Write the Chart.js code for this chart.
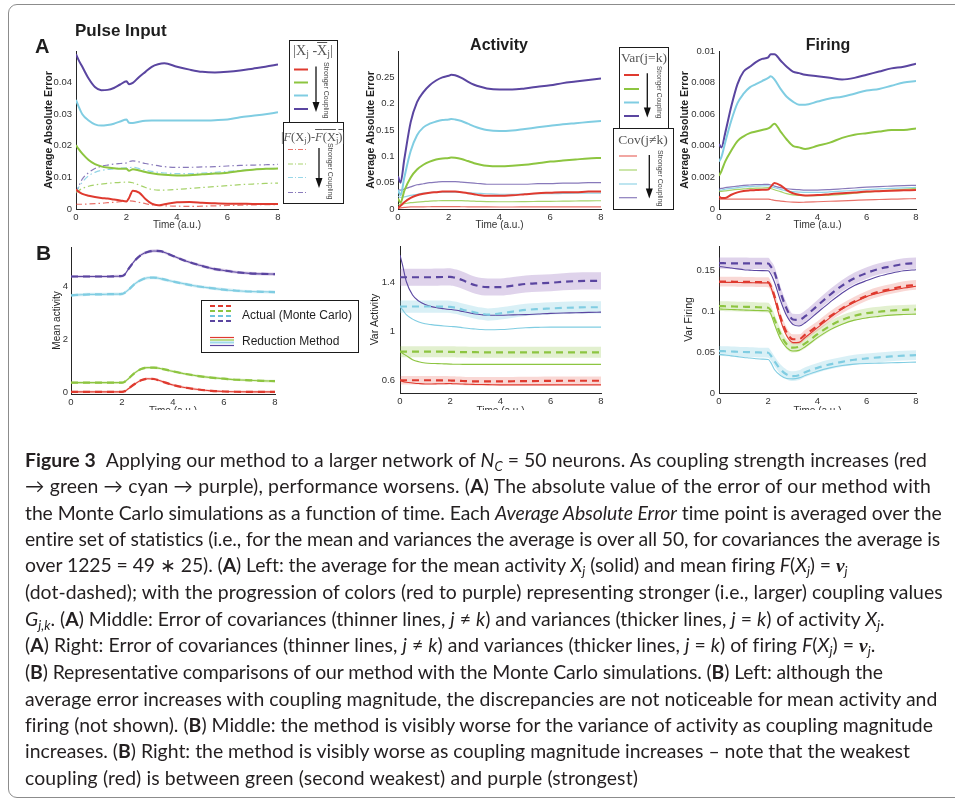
<!DOCTYPE html>
<html><head><meta charset="utf-8">
<title>Figure 3</title>
<script src="https://cdn.jsdelivr.net/npm/chart.js@4.4.1/dist/chart.umd.min.js"></script>
<style>
html,body{margin:0;padding:0;background:#fff}
body{width:955px;height:803px;position:relative;overflow:hidden;font-family:'Liberation Sans',Arial,sans-serif;color:#222}
canvas{position:absolute;z-index:1}
.cover{position:absolute;left:10px;top:410px;width:945px;height:34px;background:#fff;z-index:2}
.frame{position:absolute;left:8px;top:4px;width:1000px;height:794px;border:1px solid #8c8c8c;border-radius:9px;box-sizing:border-box;z-index:6;pointer-events:none}
.t{position:absolute;white-space:nowrap;line-height:1;font-weight:bold;color:#1e1e1e;z-index:3}
.box{position:absolute;border:1px solid #1b1b1b;background:#fff;box-sizing:border-box;z-index:3}
.ser{position:absolute;font-family:'Liberation Serif','DejaVu Serif',serif;color:#555;white-space:nowrap;line-height:1;z-index:5;transform:translateX(-50%)}
.ser sub{font-size:0.7em;vertical-align:-0.25em;line-height:0}
.rot{position:absolute;writing-mode:vertical-rl;font-size:7px;color:#444;white-space:nowrap;line-height:1;z-index:5;transform:translateX(-50%)}
.leg{position:absolute;font-size:12px;color:#1e1e1e;white-space:nowrap;line-height:1;z-index:5}
svg.ov{position:absolute;left:0;top:0;z-index:4;pointer-events:none}
.cap{position:absolute;left:25px;top:447px;font-family:Lato,'Open Sans',sans-serif;color:#231f20;line-height:26.3px;z-index:5;white-space:nowrap;font-size:18px}
.cap div{white-space:nowrap}
.cap sub{font-size:0.68em;vertical-align:-0.28em;line-height:0}
.ol{text-decoration:overline}
.nu{font-family:'Liberation Serif',serif;font-weight:bold;font-style:italic}
</style></head>
<body>
<canvas id="cAL"></canvas>
<canvas id="cAM"></canvas>
<canvas id="cAR"></canvas>
<canvas id="cBL"></canvas>
<canvas id="cBM"></canvas>
<canvas id="cBR"></canvas>
<div class="cover"></div>

<div class="t" style="left:35px;top:36px;font-size:20px">A</div>
<div class="t" style="left:36px;top:242px;font-size:21px">B</div>
<div class="t" style="left:75px;top:22px;font-size:17px">Pulse Input</div>
<div class="t" style="left:499px;top:37px;font-size:16px;transform:translateX(-50%)">Activity</div>
<div class="t" style="left:828px;top:37px;font-size:16px;transform:translateX(-50%)">Firing</div>

<!-- legend boxes -->
<div class="box" style="left:289px;top:40px;width:49px;height:83px"></div>
<div class="box" style="left:283px;top:122px;width:61px;height:82px"></div>
<div class="box" style="left:619px;top:47px;width:50px;height:82px"></div>
<div class="box" style="left:613px;top:128px;width:61px;height:82px"></div>
<div class="box" style="left:201px;top:300px;width:158px;height:53px"></div>

<div class="ser" style="left:313px;top:44px;font-size:14px">|X<sub>j</sub> -<span class="ol">X</span><sub>j</sub>|</div>
<div class="ser" style="left:313px;top:131px;font-size:12.5px">|<i>F</i>(X<sub>j</sub>)-<span class="ol"><i>F</i>(X<sub>j</sub>)</span>|</div>
<div class="ser" style="left:644px;top:51px;font-size:13.5px">Var(j=k)</div>
<div class="ser" style="left:643px;top:133px;font-size:13.5px">Cov(j≠k)</div>

<div class="rot" style="left:326.5px;top:62px">Stronger Coupling</div>
<div class="rot" style="left:330px;top:143px">Stronger Coupling</div>
<div class="rot" style="left:658.5px;top:66px;font-size:6.5px">Stronger Coupling</div>
<div class="rot" style="left:660px;top:150px">Stronger Coupling</div>

<div class="leg" style="left:242px;top:309px">Actual (Monte Carlo)</div>
<div class="leg" style="left:242px;top:335px">Reduction Method</div>

<svg class="ov" width="955" height="803">
  <g stroke-width="2">
    <line x1="294" y1="69.5" x2="308" y2="69.5" stroke="#df3a2f"/>
    <line x1="294" y1="82.5" x2="308" y2="82.5" stroke="#8dc540"/>
    <line x1="294" y1="95.5" x2="308" y2="95.5" stroke="#80cde2"/>
    <line x1="294" y1="109" x2="308" y2="109" stroke="#5a45a0"/>
  </g>
  <g stroke-width="1.2" stroke-dasharray="5,2,1,2">
    <line x1="288" y1="149.5" x2="307" y2="149.5" stroke="rgba(223,58,47,0.7)"/>
    <line x1="288" y1="164" x2="307" y2="164" stroke="rgba(141,197,64,0.75)"/>
    <line x1="288" y1="177.5" x2="307" y2="177.5" stroke="rgba(128,205,226,0.8)"/>
    <line x1="288" y1="192.5" x2="307" y2="192.5" stroke="rgba(90,69,160,0.7)"/>
  </g>
  <g stroke-width="2">
    <line x1="624" y1="75" x2="639" y2="75" stroke="#df3a2f"/>
    <line x1="624" y1="89" x2="639" y2="89" stroke="#8dc540"/>
    <line x1="624" y1="102.5" x2="639" y2="102.5" stroke="#80cde2"/>
    <line x1="624" y1="116" x2="639" y2="116" stroke="#5a45a0"/>
  </g>
  <g stroke-width="1.2">
    <line x1="619" y1="156" x2="637" y2="156" stroke="rgba(223,58,47,0.75)"/>
    <line x1="619" y1="170" x2="637" y2="170" stroke="rgba(141,197,64,0.75)"/>
    <line x1="619" y1="184" x2="637" y2="184" stroke="rgba(128,205,226,0.85)"/>
    <line x1="619" y1="197.7" x2="637" y2="197.7" stroke="rgba(90,69,160,0.7)"/>
  </g>
  <g stroke="#111" stroke-width="1.3">
    <line x1="316" y1="66.5" x2="316" y2="104"/>
    <line x1="319" y1="148" x2="319" y2="180"/>
    <line x1="647.3" y1="73.3" x2="647.3" y2="109"/>
    <line x1="649.3" y1="155" x2="649.3" y2="190"/>
  </g>
  <g fill="#111">
    <polygon points="312.5,102 319.5,102 316,112"/>
    <polygon points="315.5,178 322.5,178 319,188"/>
    <polygon points="643.8,107.5 650.8,107.5 647.3,117.5"/>
    <polygon points="645.8,188.5 652.8,188.5 649.3,198.5"/>
  </g>
  <g stroke-width="1.8" stroke-dasharray="5,3">
    <line x1="210" y1="306" x2="234" y2="306" stroke="#df3a2f"/>
    <line x1="210" y1="311" x2="234" y2="311" stroke="#8dc540"/>
    <line x1="210" y1="316" x2="234" y2="316" stroke="#6fc3dc"/>
    <line x1="210" y1="321" x2="234" y2="321" stroke="#5a45a0"/>
  </g>
  <g stroke-width="1.2">
    <line x1="210" y1="337.5" x2="234" y2="337.5" stroke="#df3a2f"/>
    <line x1="210" y1="340" x2="234" y2="340" stroke="#8dc540"/>
    <line x1="210" y1="342.5" x2="234" y2="342.5" stroke="#9fd9ea" stroke-width="2"/>
    <line x1="210" y1="345.5" x2="234" y2="345.5" stroke="#5a45a0"/>
  </g>
</svg>

<div class="cap" id="cap">
<div><span><b>Figure 3</b><span style="display:inline-block;width:10px"></span>Applying our method to a larger network of <i>N<sub>C</sub></i> = 50 neurons. As coupling strength increases (red</span></div>
<div><span>→ green → cyan → purple), performance worsens. (<b>A</b>) The absolute value of the error of our method with</span></div>
<div><span>the Monte Carlo simulations as a function of time. Each <i>Average Absolute Error</i> time point is averaged over the</span></div>
<div><span>entire set of statistics (i.e., for the mean and variances the average is over all 50, for covariances the average is</span></div>
<div><span>over 1225 = 49 ∗ 25). (<b>A</b>) Left: the average for the mean activity <i>X<sub>j</sub></i> (solid) and mean firing <i>F</i>(<i>X<sub>j</sub></i>) = <span class="nu">ν</span><sub><i>j</i></sub></span></div>
<div><span>(dot-dashed); with the progression of colors (red to purple) representing stronger (i.e., larger) coupling values</span></div>
<div><span><i>G<sub>j,k</sub></i>. (<b>A</b>) Middle: Error of covariances (thinner lines, <i>j</i> ≠ <i>k</i>) and variances (thicker lines, <i>j</i> = <i>k</i>) of activity <i>X<sub>j</sub></i>.</span></div>
<div><span>(<b>A</b>) Right: Error of covariances (thinner lines, <i>j</i> ≠ <i>k</i>) and variances (thicker lines, <i>j</i> = <i>k</i>) of firing <i>F</i>(<i>X<sub>j</sub></i>) = <span class="nu">ν</span><sub><i>j</i></sub>.</span></div>
<div><span>(<b>B</b>) Representative comparisons of our method with the Monte Carlo simulations. (<b>B</b>) Left: although the</span></div>
<div><span>average error increases with coupling magnitude, the discrepancies are not noticeable for mean activity and</span></div>
<div><span>firing (not shown). (<b>B</b>) Middle: the method is visibly worse for the variance of activity as coupling magnitude</span></div>
<div><span>increases. (<b>B</b>) Right: the method is visibly worse as coupling magnitude increases – note that the weakest</span></div>
<div><span>coupling (red) is between green (second weakest) and purple (strongest)</span></div>
</div>
<div class="frame"></div>

<script>
// ---------- data ----------
const T = [0,0.1,0.25,0.5,0.75,1,1.25,1.5,1.75,2,2.1,2.25,2.5,2.75,3,3.25,3.5,4,4.5,5,5.5,6,6.5,7,7.5,8];
const X_TICKS = [0,2,4,6,8];
const X_LABELS = ['0','2','4','6','8'];
const X_TITLE = 'Time (a.u.)';

// A left: |Xj - mean Xj| (solid) and |F(Xj) - mean F| (dot-dashed)
const AL_Y_TICKS = [0,0.01,0.02,0.03,0.04];
const AL_Y_LABELS = ['0','0.01','0.02','0.03','0.04'];
const AL_X_RED    = [0.0062,0.0055,0.0048,0.0042,0.0038,0.0035,0.0033,0.0030,0.0027,0.0024,0.0035,0.0058,0.0052,0.0032,0.0017,0.0012,0.0015,0.0021,0.0022,0.0020,0.0018,0.0017,0.0017,0.0016,0.0016,0.0016];
const AL_X_GREEN  = [0.0202,0.0190,0.0175,0.0155,0.0142,0.0135,0.0131,0.0129,0.0127,0.0127,0.0121,0.0126,0.0122,0.0117,0.0113,0.0110,0.0108,0.0106,0.0107,0.0110,0.0112,0.0115,0.0120,0.0124,0.0127,0.0128];
const AL_X_CYAN   = [0.0345,0.0325,0.0300,0.0280,0.0268,0.0264,0.0266,0.0270,0.0277,0.0283,0.0273,0.0272,0.0276,0.0279,0.0280,0.0280,0.0280,0.0280,0.0280,0.0280,0.0281,0.0283,0.0290,0.0295,0.0300,0.0306];
const AL_X_PURPLE = [0.0490,0.0472,0.0450,0.0413,0.0386,0.0376,0.0377,0.0383,0.0394,0.0404,0.0395,0.0399,0.0418,0.0434,0.0450,0.0458,0.0461,0.0450,0.0441,0.0434,0.0432,0.0434,0.0438,0.0444,0.0450,0.0457];
const AL_F_RED    = [0.0015,0.0015,0.0015,0.0016,0.0017,0.0018,0.0020,0.0021,0.0023,0.0025,0.0026,0.0025,0.0021,0.0017,0.0013,0.0011,0.0010,0.0009,0.0008,0.0009,0.0010,0.0011,0.0012,0.0013,0.0014,0.0014];
const AL_F_GREEN  = [0.0052,0.0058,0.0065,0.0072,0.0076,0.0079,0.0081,0.0083,0.0084,0.0085,0.0085,0.0083,0.0076,0.0068,0.0062,0.0060,0.0060,0.0062,0.0065,0.0068,0.0071,0.0074,0.0077,0.0079,0.0081,0.0082];
const AL_F_CYAN   = [0.0055,0.0068,0.0085,0.0105,0.0116,0.0122,0.0125,0.0127,0.0129,0.0130,0.0131,0.0132,0.0128,0.0123,0.0119,0.0116,0.0114,0.0112,0.0112,0.0114,0.0116,0.0119,0.0122,0.0125,0.0127,0.0129];
const AL_F_PURPLE = [0.0050,0.0070,0.0095,0.0115,0.0128,0.0135,0.0139,0.0142,0.0144,0.0146,0.0150,0.0152,0.0149,0.0144,0.0140,0.0137,0.0134,0.0132,0.0132,0.0133,0.0134,0.0136,0.0138,0.0139,0.0140,0.0141];

// A middle: activity variance (thick) and covariance (thin) errors
const AM_Y_TICKS = [0,0.05,0.1,0.15,0.2,0.25];
const AM_Y_LABELS = ['0','0.05','0.1','0.15','0.2','0.25'];
const AM_VAR_RED    = [0.002,0.006,0.013,0.021,0.026,0.029,0.031,0.032,0.033,0.033,0.033,0.033,0.032,0.030,0.028,0.026,0.025,0.025,0.026,0.028,0.030,0.031,0.032,0.032,0.033,0.033];
const AM_VAR_GREEN  = [0.020,0.012,0.035,0.060,0.075,0.084,0.090,0.094,0.096,0.097,0.098,0.0975,0.095,0.091,0.087,0.084,0.082,0.081,0.082,0.084,0.087,0.090,0.092,0.094,0.096,0.097];
const AM_VAR_CYAN   = [0.036,0.026,0.060,0.110,0.140,0.155,0.162,0.166,0.169,0.170,0.171,0.170,0.167,0.162,0.157,0.153,0.150,0.148,0.149,0.152,0.155,0.158,0.161,0.163,0.165,0.167];
const AM_VAR_PURPLE = [0.062,0.050,0.095,0.165,0.203,0.222,0.235,0.244,0.250,0.253,0.255,0.254,0.249,0.242,0.236,0.232,0.229,0.227,0.227,0.229,0.232,0.235,0.239,0.242,0.245,0.248];
const AM_COV_RED    = [0.001,0.002,0.003,0.004,0.004,0.0042,0.0043,0.0044,0.0044,0.0044,0.0044,0.0044,0.0043,0.0042,0.0041,0.0040,0.0039,0.0038,0.0038,0.0039,0.0040,0.0040,0.0041,0.0041,0.0042,0.0042];
const AM_COV_GREEN  = [0.008,0.009,0.010,0.012,0.013,0.014,0.015,0.0155,0.016,0.016,0.016,0.016,0.0158,0.0153,0.0148,0.0143,0.014,0.0138,0.0138,0.014,0.0143,0.0146,0.0149,0.0152,0.0155,0.0157];
const AM_COV_CYAN   = [0.024,0.022,0.023,0.026,0.028,0.030,0.031,0.032,0.032,0.032,0.032,0.032,0.0315,0.031,0.030,0.0295,0.029,0.028,0.028,0.0285,0.029,0.029,0.0295,0.030,0.030,0.030];
const AM_COV_PURPLE = [0.037,0.036,0.038,0.042,0.046,0.048,0.050,0.051,0.052,0.052,0.052,0.052,0.051,0.050,0.049,0.048,0.047,0.047,0.047,0.047,0.048,0.048,0.049,0.049,0.050,0.050];

// A right: firing variance (thick) and covariance (thin) errors
const AR_Y_TICKS = [0,0.002,0.004,0.006,0.008,0.01];
const AR_Y_LABELS = ['0','0.002','0.004','0.006','0.008','0.01'];
const AR_VAR_RED    = [0.00078,0.0007,0.0007,0.0009,0.00105,0.00114,0.00118,0.0012,0.00122,0.00124,0.0014,0.00165,0.0015,0.0012,0.0010,0.0009,0.00085,0.00088,0.00094,0.0010,0.00105,0.0011,0.00113,0.00116,0.00118,0.0012];
const AR_VAR_GREEN  = [0.0021,0.0024,0.0030,0.0037,0.0043,0.0046,0.0048,0.0049,0.0050,0.0051,0.0052,0.0054,0.0049,0.0044,0.0040,0.0039,0.0038,0.0040,0.0042,0.0045,0.0047,0.0048,0.0049,0.0050,0.0050,0.0051];
const AR_VAR_CYAN   = [0.0030,0.0033,0.0042,0.0056,0.0067,0.0073,0.0077,0.0079,0.0081,0.0083,0.0084,0.0082,0.0076,0.0071,0.0068,0.0066,0.0066,0.0068,0.0070,0.0071,0.0073,0.0075,0.0076,0.0078,0.0080,0.0081];
const AR_VAR_PURPLE = [0.0041,0.0039,0.0048,0.0065,0.0079,0.0087,0.0090,0.0093,0.0095,0.0096,0.0098,0.0098,0.0094,0.0090,0.0087,0.0086,0.0085,0.0084,0.0083,0.0082,0.0083,0.0085,0.0087,0.0089,0.0090,0.0092];
const AR_COV_RED    = [0.00063,0.00063,0.00063,0.00063,0.00063,0.00063,0.00063,0.00063,0.00063,0.00063,0.0006,0.00055,0.0005,0.00046,0.00043,0.00042,0.00043,0.00046,0.00049,0.00052,0.00055,0.00058,0.0006,0.00062,0.00064,0.00066];
const AR_COV_GREEN  = [0.0011,0.00112,0.00115,0.0012,0.00124,0.00127,0.0013,0.00132,0.00133,0.00135,0.0013,0.00122,0.0011,0.00097,0.00089,0.00086,0.00085,0.00085,0.00088,0.00093,0.0010,0.00107,0.00113,0.0012,0.00125,0.0013];
const AR_COV_CYAN   = [0.0012,0.0012,0.00125,0.0013,0.00135,0.0014,0.00142,0.00144,0.00146,0.00147,0.00142,0.00135,0.00124,0.00115,0.0011,0.00107,0.00105,0.00105,0.00108,0.00113,0.00118,0.00123,0.00127,0.0013,0.00134,0.00137];
const AR_COV_PURPLE = [0.00128,0.0013,0.00135,0.0014,0.00145,0.0015,0.00152,0.00154,0.00155,0.00156,0.00152,0.00145,0.00135,0.00128,0.00124,0.00122,0.0012,0.0012,0.00123,0.00128,0.00133,0.00138,0.00142,0.00145,0.00148,0.0015];

// B left: mean activity, Monte Carlo (dashed + band) vs reduction method (solid)
const BL_Y_TICKS = [0,2,4];
const BL_Y_LABELS = ['0','2','4'];
const BL_MC_RED    = [0,0,0,0,0,0,0,0,0,0,0.02,0.12,0.30,0.44,0.50,0.49,0.42,0.26,0.16,0.09,0.04,0.015,0.005,0,0,0];
const BL_MC_GREEN  = [0.35,0.35,0.35,0.35,0.35,0.35,0.35,0.35,0.35,0.35,0.38,0.50,0.72,0.87,0.92,0.92,0.89,0.78,0.68,0.60,0.54,0.50,0.46,0.44,0.42,0.41];
const BL_MC_CYAN   = [3.66,3.67,3.68,3.69,3.70,3.70,3.70,3.71,3.71,3.72,3.76,3.87,4.10,4.25,4.33,4.34,4.30,4.19,4.09,4.00,3.94,3.88,3.84,3.81,3.80,3.79];
const BL_MC_PURPLE = [4.38,4.38,4.38,4.38,4.38,4.38,4.38,4.38,4.39,4.40,4.45,4.66,4.98,5.20,5.31,5.35,5.34,5.16,4.97,4.82,4.69,4.61,4.54,4.50,4.48,4.47];
const BL_RM_RED    = [0,0,0,0,0,0,0,0,0,0,0.02,0.12,0.30,0.44,0.50,0.49,0.42,0.26,0.16,0.09,0.04,0.015,0.005,0,0,0];
const BL_RM_GREEN  = [0.35,0.35,0.35,0.35,0.35,0.35,0.35,0.35,0.35,0.35,0.38,0.50,0.72,0.87,0.92,0.92,0.89,0.78,0.68,0.60,0.54,0.50,0.46,0.44,0.42,0.41];
const BL_RM_CYAN   = [3.66,3.67,3.68,3.69,3.70,3.70,3.70,3.71,3.71,3.72,3.76,3.87,4.10,4.25,4.33,4.34,4.30,4.19,4.09,4.00,3.94,3.88,3.84,3.81,3.80,3.79];
const BL_RM_PURPLE = [4.38,4.38,4.38,4.38,4.38,4.38,4.38,4.38,4.39,4.40,4.45,4.66,4.98,5.20,5.31,5.35,5.34,5.16,4.97,4.82,4.69,4.61,4.54,4.50,4.48,4.47];
const BL_SPREAD = [0.05,0.05,0.06,0.06];   // red, green, cyan, purple band half-widths

// B middle: variance of activity
const BM_Y_TICKS = [0.6,1,1.4];
const BM_Y_LABELS = ['0.6','1','1.4'];
const BM_MC_RED    = [0.604,0.604,0.604,0.604,0.604,0.604,0.604,0.603,0.603,0.602,0.601,0.600,0.598,0.596,0.595,0.595,0.595,0.595,0.596,0.597,0.598,0.599,0.600,0.600,0.600,0.600];
const BM_MC_GREEN  = [0.837,0.837,0.837,0.837,0.837,0.837,0.837,0.837,0.837,0.836,0.836,0.835,0.834,0.833,0.833,0.832,0.832,0.832,0.832,0.832,0.832,0.832,0.832,0.832,0.832,0.832];
const BM_MC_CYAN   = [1.206,1.206,1.206,1.206,1.206,1.206,1.206,1.206,1.205,1.203,1.200,1.195,1.180,1.168,1.157,1.147,1.140,1.150,1.165,1.178,1.185,1.190,1.195,1.198,1.200,1.200];
const BM_MC_PURPLE = [1.445,1.445,1.445,1.445,1.445,1.445,1.445,1.446,1.447,1.448,1.445,1.438,1.420,1.398,1.380,1.368,1.365,1.365,1.376,1.390,1.396,1.400,1.408,1.413,1.415,1.415];
const BM_RM_RED    = [0.604,0.595,0.588,0.582,0.577,0.574,0.574,0.575,0.576,0.577,0.576,0.575,0.573,0.571,0.570,0.569,0.568,0.566,0.566,0.566,0.566,0.566,0.566,0.566,0.566,0.566];
const BM_RM_GREEN  = [0.840,0.825,0.805,0.772,0.755,0.745,0.741,0.740,0.738,0.736,0.735,0.735,0.734,0.734,0.734,0.734,0.734,0.734,0.734,0.734,0.734,0.734,0.734,0.734,0.734,0.734];
const BM_RM_CYAN   = [1.206,1.180,1.140,1.103,1.080,1.065,1.058,1.052,1.047,1.043,1.042,1.040,1.033,1.026,1.022,1.018,1.016,1.018,1.025,1.033,1.036,1.038,1.038,1.038,1.038,1.038];
const BM_RM_PURPLE = [1.626,1.545,1.410,1.300,1.250,1.222,1.205,1.195,1.188,1.182,1.180,1.175,1.165,1.155,1.145,1.139,1.135,1.135,1.138,1.140,1.145,1.150,1.153,1.155,1.158,1.160];
const BM_SPREAD = [0.035,0.045,0.05,0.07];

// B right: variance of firing
const BR_Y_TICKS = [0,0.05,0.1,0.15];
const BR_Y_LABELS = ['0','0.05','0.1','0.15'];
const BR_MC_RED    = [0.1365,0.1365,0.1364,0.1363,0.1362,0.1361,0.1360,0.1358,0.1357,0.1356,0.131,0.119,0.0925,0.074,0.0658,0.0658,0.0715,0.082,0.0937,0.1036,0.112,0.119,0.124,0.1274,0.1307,0.1323];
const BR_MC_GREEN  = [0.1065,0.1064,0.1062,0.1060,0.1058,0.1056,0.1054,0.1051,0.1048,0.1044,0.101,0.0904,0.072,0.0596,0.0555,0.0567,0.0608,0.072,0.082,0.0896,0.0945,0.0978,0.0995,0.101,0.1017,0.1023];
const BR_MC_CYAN   = [0.0514,0.0513,0.0511,0.0508,0.0505,0.0502,0.0500,0.0498,0.0495,0.0493,0.046,0.039,0.0288,0.0226,0.0206,0.0218,0.0255,0.0308,0.035,0.0382,0.0407,0.0423,0.0437,0.0448,0.0457,0.0464];
const BR_MC_PURPLE = [0.159,0.159,0.1589,0.1588,0.1588,0.1588,0.1587,0.1587,0.1586,0.1586,0.155,0.148,0.123,0.103,0.090,0.0896,0.094,0.107,0.120,0.1315,0.1405,0.147,0.152,0.155,0.158,0.159];
const BR_RM_RED    = [0.1356,0.1356,0.1355,0.1354,0.1353,0.1352,0.1351,0.1350,0.1349,0.1348,0.130,0.116,0.089,0.070,0.0617,0.0620,0.068,0.080,0.092,0.1027,0.111,0.118,0.1225,0.126,0.1285,0.1307];
const BR_RM_GREEN  = [0.1028,0.1027,0.1025,0.1022,0.1019,0.1016,0.1013,0.1011,0.1009,0.1007,0.097,0.0843,0.0658,0.0555,0.0514,0.0522,0.0567,0.0678,0.0773,0.0843,0.0892,0.092,0.0938,0.0954,0.0961,0.0966];
const BR_RM_CYAN   = [0.0473,0.0470,0.0465,0.0455,0.0445,0.0435,0.0428,0.0420,0.0415,0.0410,0.0375,0.0288,0.0214,0.0177,0.0173,0.0185,0.0214,0.0267,0.0308,0.0337,0.0353,0.0362,0.0366,0.0370,0.0374,0.0378];
const BR_RM_PURPLE = [0.155,0.1545,0.154,0.153,0.152,0.151,0.1505,0.150,0.1498,0.1496,0.146,0.136,0.113,0.0945,0.084,0.082,0.086,0.0986,0.111,0.1225,0.1315,0.1377,0.143,0.1467,0.1496,0.151];
const BR_SPREAD = [0.006,0.006,0.006,0.007];

// ---------- styling ----------
const FONT = "'Liberation Sans', Arial, sans-serif";
const TICK_FONT = {family:FONT, size:9.5};
const COL = {red:'#df3a2f', green:'#8dc540', cyan:'#80cde2', purple:'#5a45a0'};
const COL_LIGHT = {red:'rgba(223,58,47,0.72)', green:'rgba(141,197,64,0.78)', cyan:'rgba(128,205,226,0.85)', purple:'rgba(90,69,160,0.72)'};
const COL_BAND = {red:'rgba(223,58,47,0.2)', green:'rgba(141,197,64,0.25)', cyan:'rgba(128,205,226,0.3)', purple:'rgba(150,110,190,0.3)'};
const KEYS = ['red','green','cyan','purple'];

function pts(arr, off){ off = off||0; return arr.map((v,i)=>({x:T[i], y:v+off})); }
function ln(arr, color, w, dash, order){
  return {data:pts(arr), borderColor:color, backgroundColor:color, borderWidth:w, borderDash:dash||[],
          fill:false, pointRadius:0, order:order||0, cubicInterpolationMode:'monotone'};
}
function band(arr, hw, color){
  return [
    {data:pts(arr, hw), borderWidth:0, borderColor:'rgba(0,0,0,0)', backgroundColor:color, fill:'+1', pointRadius:0, order:9, cubicInterpolationMode:'monotone'},
    {data:pts(arr, -hw), borderWidth:0, borderColor:'rgba(0,0,0,0)', backgroundColor:'rgba(0,0,0,0)', fill:false, pointRadius:0, order:9, cubicInterpolationMode:'monotone'}
  ];
}

function makeChart(id, g, y, datasets){
  const cv = document.getElementById(id);
  const W = g.R + g.PR - g.cl, H = g.cb - g.ct;
  cv.width = W; cv.height = H;
  cv.style.left = g.cl + 'px'; cv.style.top = g.ct + 'px';
  cv.style.width = W + 'px'; cv.style.height = H + 'px';
  new Chart(cv, {type:'line', data:{datasets}, options:{
    responsive:false, maintainAspectRatio:false, animation:false, devicePixelRatio:1, events:[],
    layout:{padding:{left:0, right:g.PR, top:g.T - g.ct, bottom:0}},
    plugins:{legend:{display:false}, tooltip:{enabled:false}},
    scales:{
      x:{type:'linear', min:0, max:8,
         grid:{display:false, drawTicks:false},
         border:{display:true, color:'#262626', width:1},
         ticks:{padding:2.5, color:'#333', font:TICK_FONT, maxRotation:0, autoSkip:false, callback:(v,i)=>X_LABELS[i]},
         afterBuildTicks:s=>{ s.ticks = X_TICKS.map(v=>({value:v})); },
         title:{display:true, text:X_TITLE, color:'#333', font:{family:FONT, size:10}, padding:0},
         afterFit:s=>{ s.height = g.cb - g.B; }},
      y:{type:'linear', min:y.min, max:y.max,
         grid:{display:false, drawTicks:false},
         border:{display:true, color:'#262626', width:1},
         ticks:{padding:y.pad, color:'#333', font:TICK_FONT, autoSkip:false, callback:(v,i)=>y.labels[i]},
         afterBuildTicks:s=>{ s.ticks = y.ticks.map(v=>({value:v})); },
         title:{display:true, text:y.title, color:'#222', font:{family:FONT, size:y.tsize, weight:y.bold?'bold':'normal'}, padding:0},
         afterFit:s=>{ s.width = g.L - g.cl; }}
    }
  }});
}

// ---------- A left ----------
(function(){
  const X = [AL_X_RED, AL_X_GREEN, AL_X_CYAN, AL_X_PURPLE];
  const F = [AL_F_RED, AL_F_GREEN, AL_F_CYAN, AL_F_PURPLE];
  const ds = [];
  KEYS.forEach((k,i)=>ds.push(ln(X[i], COL[k], 2, [], 0)));
  KEYS.forEach((k,i)=>ds.push(ln(F[i], COL_LIGHT[k], 1.2, [6,3,1.5,3], 1)));
  makeChart('cAL', {L:76,R:278,T:51,B:209,cl:43,ct:36,cb:231,PR:12},
    {min:0, max:0.05, ticks:AL_Y_TICKS, labels:AL_Y_LABELS, pad:4, title:'Average Absolute Error', bold:true, tsize:10.5}, ds);
})();

// ---------- A middle ----------
(function(){
  const V = [AM_VAR_RED, AM_VAR_GREEN, AM_VAR_CYAN, AM_VAR_PURPLE];
  const C = [AM_COV_RED, AM_COV_GREEN, AM_COV_CYAN, AM_COV_PURPLE];
  const ds = [];
  KEYS.forEach((k,i)=>ds.push(ln(V[i], COL[k], 2, [], 0)));
  KEYS.forEach((k,i)=>ds.push(ln(C[i], COL_LIGHT[k], 1.2, [], 1)));
  makeChart('cAM', {L:398,R:601,T:51,B:209,cl:365,ct:36,cb:231,PR:12},
    {min:0, max:0.3, ticks:AM_Y_TICKS, labels:AM_Y_LABELS, pad:3.5, title:'Average Absolute Error', bold:true, tsize:10.5}, ds);
})();

// ---------- A right ----------
(function(){
  const V = [AR_VAR_RED, AR_VAR_GREEN, AR_VAR_CYAN, AR_VAR_PURPLE];
  const C = [AR_COV_RED, AR_COV_GREEN, AR_COV_CYAN, AR_COV_PURPLE];
  const ds = [];
  KEYS.forEach((k,i)=>ds.push(ln(V[i], COL[k], 2, [], 0)));
  KEYS.forEach((k,i)=>ds.push(ln(C[i], COL_LIGHT[k], 1.2, [], 1)));
  makeChart('cAR', {L:719,R:916,T:51,B:209,cl:679,ct:36,cb:231,PR:12},
    {min:0, max:0.01, ticks:AR_Y_TICKS, labels:AR_Y_LABELS, pad:4, title:'Average Absolute Error', bold:true, tsize:10.5}, ds);
})();

// ---------- B panels ----------
function bPanel(id, g, y, MC, RM, SP){
  const ds = [];
  KEYS.forEach((k,i)=>{ band(MC[i], SP[i], COL_BAND[k]).forEach(d=>ds.push(d)); });
  KEYS.forEach((k,i)=>ds.push(ln(RM[i], COL[k], 1.1, [], 1)));
  KEYS.forEach((k,i)=>ds.push(ln(MC[i], COL[k], 2.2, [7,5], 0)));
  makeChart(id, g, y, ds);
}
bPanel('cBL', {L:71,R:275,T:247,B:394,cl:51,ct:232,cb:417,PR:12},
  {min:-0.08, max:5.5, ticks:BL_Y_TICKS, labels:BL_Y_LABELS, pad:3, title:'Mean activity', bold:false, tsize:10}, 
  [BL_MC_RED,BL_MC_GREEN,BL_MC_CYAN,BL_MC_PURPLE], [BL_RM_RED,BL_RM_GREEN,BL_RM_CYAN,BL_RM_PURPLE], BL_SPREAD);
bPanel('cBM', {L:400,R:601,T:246,B:393,cl:369,ct:232,cb:417,PR:12},
  {min:0.5, max:1.7, ticks:BM_Y_TICKS, labels:BM_Y_LABELS, pad:5, title:'Var Activity', bold:false, tsize:10.5},
  [BM_MC_RED,BM_MC_GREEN,BM_MC_CYAN,BM_MC_PURPLE], [BM_RM_RED,BM_RM_GREEN,BM_RM_CYAN,BM_RM_PURPLE], BM_SPREAD);
bPanel('cBR', {L:719,R:916,T:246,B:393,cl:683,ct:232,cb:417,PR:12},
  {min:0, max:0.18, ticks:BR_Y_TICKS, labels:BR_Y_LABELS, pad:4, title:'Var Firing', bold:false, tsize:10.5},
  [BR_MC_RED,BR_MC_GREEN,BR_MC_CYAN,BR_MC_PURPLE], [BR_RM_RED,BR_RM_GREEN,BR_RM_CYAN,BR_RM_PURPLE], BR_SPREAD);

// ---------- caption layout: match each line's right end in the reference ----------
(function(){
  const LINE_ENDS = [927,931,943,941,847,943,885,875,883,938,933,910,638];
  const cap = document.getElementById('cap');
  const spans = Array.from(cap.querySelectorAll('div > span'));
  const left = 25;
  let natural = 0, target = 0;
  spans.forEach((s,i)=>{ natural += s.getBoundingClientRect().width; target += LINE_ENDS[i]-left; });
  const size = 18 * target / natural;
  cap.style.fontSize = size.toFixed(2) + 'px';
  spans.forEach((s,i)=>{
    const w = s.getBoundingClientRect().width;
    const n = s.textContent.length;
    const ls = (LINE_ENDS[i]-left - w) / n;
    s.style.letterSpacing = ls.toFixed(3) + 'px';
  });
})();
</script>
</body></html>
